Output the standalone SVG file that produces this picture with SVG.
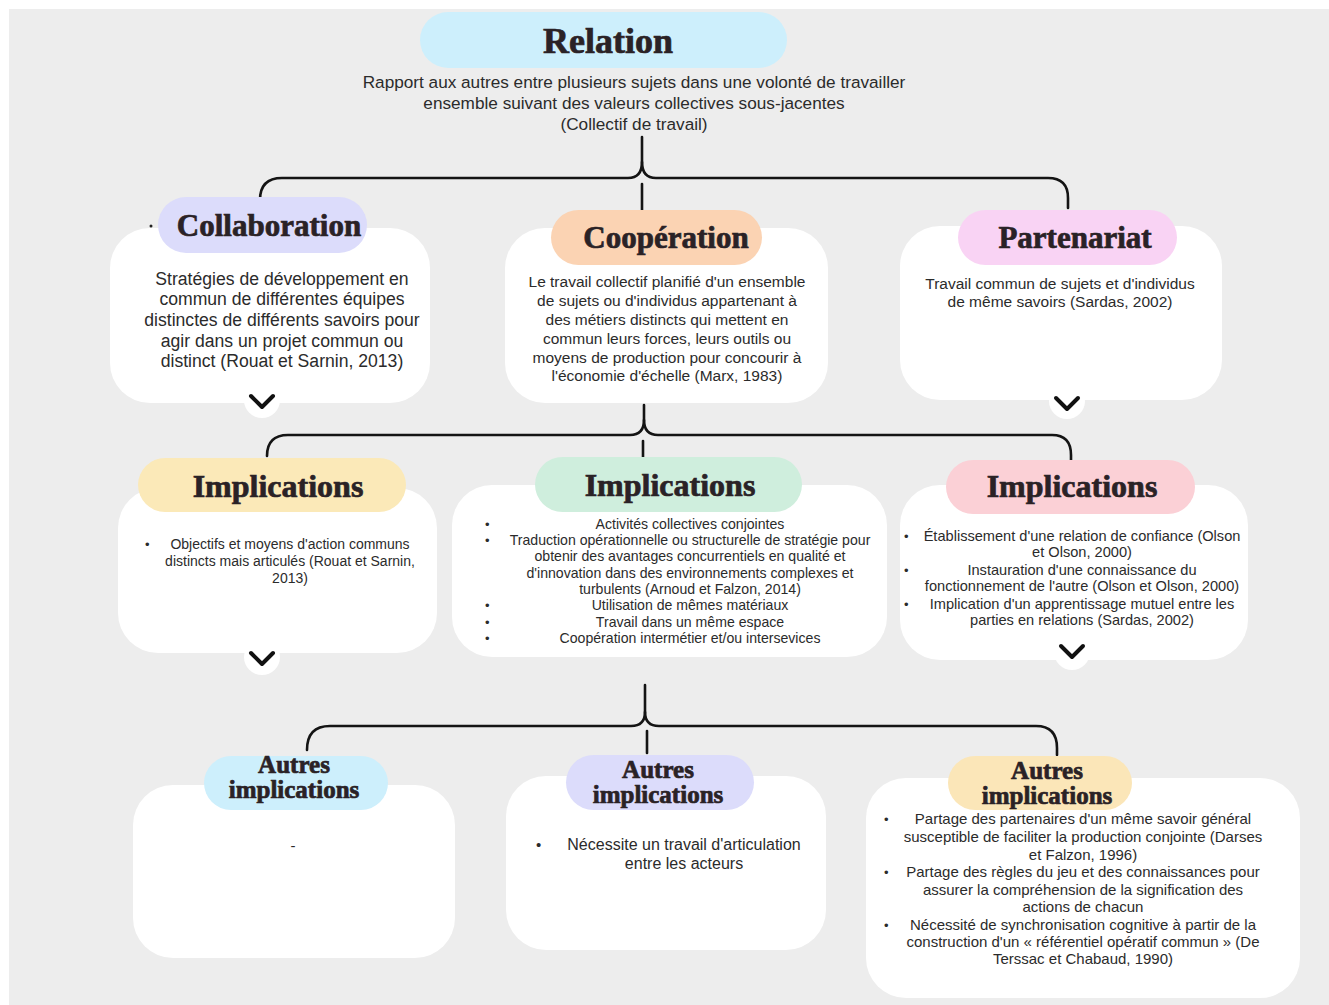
<svg xmlns="http://www.w3.org/2000/svg" width="1329" height="1005" viewBox="0 0 1329 1005">
<defs>
<style>
.card{fill:#ffffff;}
.ttl{font-family:"Liberation Serif","DejaVu Serif",serif;font-weight:bold;fill:#2a2226;stroke:#2a2226;stroke-width:0.7;text-anchor:middle;}
.txt{font-family:"Liberation Sans","DejaVu Sans",sans-serif;fill:#2b2b2b;text-anchor:middle;}
.bul{font-family:"Liberation Sans","DejaVu Sans",sans-serif;fill:#2b2b2b;}
.con{fill:none;stroke:#141414;stroke-width:2.6;stroke-linecap:round;stroke-linejoin:round;}
.chev{fill:none;stroke:#111;stroke-width:4;stroke-linecap:round;stroke-linejoin:round;}
</style>
</defs>
<rect width="1329" height="1005" fill="#ffffff"/>
<rect x="9" y="9" width="1320" height="996" fill="#ededed"/>

<g id="connectors">
<path class="con" d="M642,137 V162 Q642,178 628,178 H282 Q260,178 260,200"/>
<path class="con" d="M642,162 Q642,178 656,178 H1048 Q1068,178 1068,198 V208"/>
<path class="con" d="M642,184 V210"/>
<path class="con" d="M644,405 V420 Q644,435 630,435 H288 Q267,435 267,456"/>
<path class="con" d="M644,420 Q644,435 658,435 H1052 Q1071,435 1071,455 V460"/>
<path class="con" d="M643,441 V457"/>
<path class="con" d="M645,685 V712 Q645,726 631,726 H330 Q307,726 307,750"/>
<path class="con" d="M645,712 Q645,726 659,726 H1036 Q1057,726 1057,748 V755"/>
<path class="con" d="M647,731 V753"/>
</g>

<g id="relation">
<rect x="420" y="12" width="367" height="56" rx="28" fill="#cdeffc"/>
<text class="ttl" x="608" y="53" font-size="36">Relation</text>
<text class="txt" font-size="17.2"><tspan x="634" y="88">Rapport aux autres entre plusieurs sujets dans une volonté de travailler</tspan><tspan x="634" y="109">ensemble suivant des valeurs collectives sous-jacentes</tspan><tspan x="634" y="130">(Collectif de travail)</tspan></text>
</g>

<g id="collaboration">
<rect class="card" x="110" y="228" width="320" height="175" rx="40"/>
<circle cx="262" cy="400" r="18" fill="#ffffff"/>
<rect x="158" y="197" width="209" height="56" rx="28" fill="#dcdcfb"/>
<circle cx="151" cy="226" r="1.5" fill="#222"/>
<text class="ttl" x="269" y="236" font-size="31">Collaboration</text>
<text class="txt" font-size="17.6"><tspan x="282" y="285">Stratégies de développement en</tspan><tspan x="282" y="305">commun de différentes équipes</tspan><tspan x="282" y="326">distinctes de différents savoirs pour</tspan><tspan x="282" y="347">agir dans un projet commun ou</tspan><tspan x="282" y="367">distinct (Rouat et Sarnin, 2013)</tspan></text>
<path class="chev" d="M251,396 L262,407 L273,396"/>
</g>

<g id="cooperation">
<rect class="card" x="505" y="228" width="323" height="175" rx="40"/>
<rect x="551" y="210" width="211" height="55" rx="27.5" fill="#fbd3b3"/>
<text class="ttl" x="666" y="248" font-size="31">Coopération</text>
<text class="txt" font-size="15.5"><tspan x="667" y="287">Le travail collectif planifié d'un ensemble</tspan><tspan x="667" y="306">de sujets ou d'individus appartenant à</tspan><tspan x="667" y="325">des métiers distincts qui mettent en</tspan><tspan x="667" y="344">commun leurs forces, leurs outils ou</tspan><tspan x="667" y="363">moyens de production pour concourir à</tspan><tspan x="667" y="381">l'économie d'échelle (Marx, 1983)</tspan></text>
</g>

<g id="partenariat">
<rect class="card" x="900" y="226" width="322" height="174" rx="40"/>
<circle cx="1067" cy="401" r="18" fill="#ffffff"/>
<rect x="958" y="210" width="219" height="55" rx="27.5" fill="#f9d3f4"/>
<text class="ttl" x="1075" y="248" font-size="31">Partenariat</text>
<text class="txt" font-size="15.5"><tspan x="1060" y="289">Travail commun de sujets et d'individus</tspan><tspan x="1060" y="307">de même savoirs (Sardas, 2002)</tspan></text>
<path class="chev" d="M1056,398 L1067,409 L1078,398"/>
</g>

<g id="implications-collaboration">
<rect class="card" x="118" y="488" width="319" height="165" rx="40"/>
<circle cx="262" cy="657" r="18" fill="#ffffff"/>
<rect x="138" y="458" width="268" height="54" rx="27" fill="#fbe9b8"/>
<text class="ttl" x="278" y="497" font-size="32">Implications</text>
<text class="bul" x="145" y="549" font-size="13">•</text>
<text class="txt" font-size="14"><tspan x="290" y="549">Objectifs et moyens d'action communs</tspan><tspan x="290" y="566">distincts mais articulés (Rouat et Sarnin,</tspan><tspan x="290" y="583">2013)</tspan></text>
<path class="chev" d="M251,653 L262,664 L273,653"/>
</g>

<g id="implications-cooperation">
<rect class="card" x="452" y="485" width="435" height="172" rx="40"/>
<rect x="535" y="457" width="267" height="55" rx="27.5" fill="#cfeedd"/>
<text class="ttl" x="670" y="496" font-size="32">Implications</text>
<text class="bul" font-size="13"><tspan x="485" y="529">•</tspan><tspan x="485" y="545">•</tspan><tspan x="485" y="610">•</tspan><tspan x="485" y="627">•</tspan><tspan x="485" y="643">•</tspan></text>
<text class="txt" font-size="14.1"><tspan x="690" y="529">Activités collectives conjointes</tspan><tspan x="690" y="545">Traduction opérationnelle ou structurelle de stratégie pour</tspan><tspan x="690" y="561">obtenir des avantages concurrentiels en qualité et</tspan><tspan x="690" y="578">d'innovation dans des environnements complexes et</tspan><tspan x="690" y="594">turbulents (Arnoud et Falzon, 2014)</tspan><tspan x="690" y="610">Utilisation de mêmes matériaux</tspan><tspan x="690" y="627">Travail dans un même espace</tspan><tspan x="690" y="643">Coopération intermétier et/ou intersevices</tspan></text>
</g>

<g id="implications-partenariat">
<rect class="card" x="900" y="485" width="348" height="175" rx="40"/>
<circle cx="1072" cy="652" r="18" fill="#ffffff"/>
<rect x="946" y="460" width="249" height="54" rx="27" fill="#fbd0d6"/>
<text class="ttl" x="1072" y="497" font-size="32">Implications</text>
<text class="bul" font-size="13"><tspan x="904" y="541">•</tspan><tspan x="904" y="575">•</tspan><tspan x="904" y="609">•</tspan></text>
<text class="txt" font-size="14.6"><tspan x="1082" y="541">Établissement d'une relation de confiance (Olson</tspan><tspan x="1082" y="557">et Olson, 2000)</tspan><tspan x="1082" y="575">Instauration d'une connaissance du</tspan><tspan x="1082" y="591">fonctionnement de l'autre (Olson et Olson, 2000)</tspan><tspan x="1082" y="609">Implication d'un apprentissage mutuel entre les</tspan><tspan x="1082" y="625">parties en relations (Sardas, 2002)</tspan></text>
<path class="chev" d="M1061,646 L1072,657 L1083,646"/>
</g>

<g id="autres-collaboration">
<rect class="card" x="133" y="785" width="322" height="173" rx="40"/>
<rect x="204" y="756" width="184" height="54" rx="27" fill="#cdeffc"/>
<text class="ttl" font-size="25"><tspan x="294" y="773">Autres</tspan><tspan x="294" y="798">implications</tspan></text>
<text class="txt" x="293" y="851" font-size="15">-</text>
</g>

<g id="autres-cooperation">
<rect class="card" x="506" y="776" width="320" height="174" rx="40"/>
<rect x="566" y="755" width="188" height="55" rx="27.5" fill="#dcdcfb"/>
<text class="ttl" font-size="25"><tspan x="658" y="778">Autres</tspan><tspan x="658" y="803">implications</tspan></text>
<text class="bul" x="536" y="850" font-size="15">•</text>
<text class="txt" font-size="16"><tspan x="684" y="850">Nécessite un travail d'articulation</tspan><tspan x="684" y="869">entre les acteurs</tspan></text>
</g>

<g id="autres-partenariat">
<rect class="card" x="866" y="778" width="434" height="220" rx="40"/>
<rect x="948" y="756" width="184" height="54" rx="27" fill="#fbe6b8"/>
<text class="ttl" font-size="25"><tspan x="1047" y="779">Autres</tspan><tspan x="1047" y="804">implications</tspan></text>
<text class="bul" font-size="13"><tspan x="884" y="824">•</tspan><tspan x="884" y="877">•</tspan><tspan x="884" y="930">•</tspan></text>
<text class="txt" font-size="15"><tspan x="1083" y="824">Partage des partenaires d'un même savoir général</tspan><tspan x="1083" y="842">susceptible de faciliter la production conjointe (Darses</tspan><tspan x="1083" y="860">et Falzon, 1996)</tspan><tspan x="1083" y="877">Partage des règles du jeu et des connaissances pour</tspan><tspan x="1083" y="895">assurer la compréhension de la signification des</tspan><tspan x="1083" y="912">actions de chacun</tspan><tspan x="1083" y="930">Nécessité de synchronisation cognitive à partir de la</tspan><tspan x="1083" y="947">construction d'un « référentiel opératif commun » (De</tspan><tspan x="1083" y="964">Terssac et Chabaud, 1990)</tspan></text>
</g>
</svg>
